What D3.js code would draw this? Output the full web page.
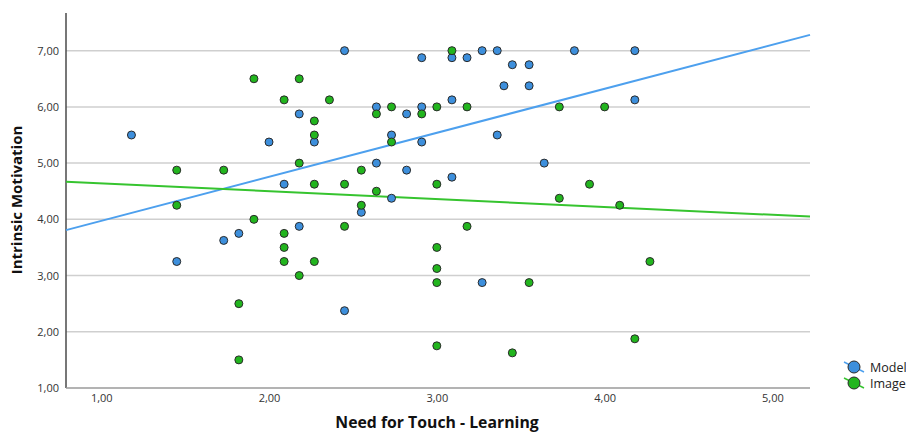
<!DOCTYPE html>
<html>
<head>
<meta charset="utf-8">
<script src="https://cdn.jsdelivr.net/npm/d3@7"></script>
<style>
  body { margin: 0; background: #fff; }
  svg text { font-family: "Open Sans", "DejaVu Sans", sans-serif; }
</style>
</head>
<body>
<div id="chart"></div>
<script>
// Model group (blue)
var modelX = [1.18, 1.45, 1.73, 1.82, 2.00, 2.09, 2.18, 2.18, 2.27, 2.45, 2.45, 2.55, 2.64, 2.64, 2.73, 2.73, 2.82, 2.82, 2.91, 2.91, 2.91, 3.09, 3.09, 3.09, 3.18, 3.27, 3.27, 3.36, 3.36, 3.45, 3.55, 3.40, 3.55, 3.64, 3.82, 4.18, 4.18];
var modelY = [5.5, 3.25, 3.625, 3.75, 5.375, 4.625, 5.875, 3.875, 5.375, 7.0, 2.375, 4.125, 6.0, 5.0, 5.5, 4.375, 5.875, 4.875, 6.875, 6.0, 5.375, 6.875, 6.125, 4.75, 6.875, 7.0, 2.875, 7.0, 5.5, 6.75, 6.75, 6.375, 6.375, 5.0, 7.0, 7.0, 6.125];
// Image group (green)
var imageX = [1.45, 1.45, 1.73, 1.82, 1.82, 1.91, 1.91, 2.09, 2.09, 2.09, 2.09, 2.18, 2.18, 2.18, 2.27, 2.27, 2.27, 2.27, 2.36, 2.45, 2.45, 2.55, 2.55, 2.64, 2.64, 2.73, 2.73, 2.91, 3.00, 3.00, 3.00, 3.00, 3.00, 3.00, 3.09, 3.18, 3.18, 3.45, 3.55, 3.73, 3.73, 3.91, 4.00, 4.09, 4.18, 4.27];
var imageY = [4.875, 4.25, 4.875, 2.5, 1.5, 6.5, 4.0, 6.125, 3.75, 3.5, 3.25, 6.5, 5.0, 3.0, 5.75, 5.5, 4.625, 3.25, 6.125, 4.625, 3.875, 4.875, 4.25, 5.875, 4.5, 6.0, 5.375, 5.875, 6.0, 4.625, 3.5, 3.125, 2.875, 1.75, 7.0, 6.0, 3.875, 1.625, 2.875, 6.0, 4.375, 4.625, 6.0, 4.25, 1.875, 3.25];
// linear fit lines: [intercept, slope]
var modelFit = [3.19, 0.783];
var imageFit = [4.78, -0.14];

var groups = ["Model", "Image"];
var xTicks = [1, 2, 3, 4, 5];
var yTicks = [1, 2, 3, 4, 5, 6, 7];

var fills = {Model: "#3d8fdc", Image: "#22b51e"};
var lineColors = {Model: "#4da0ee", Image: "#36c42f"};

var width = 906, height = 434;
var svg = d3.select("#chart").append("svg")
  .attr("width", width)
  .attr("height", height);

var x = d3.scaleLinear().domain([0.79, 5.224]).range([66, 810]);
var y = d3.scaleLinear().domain([1, 7.67]).range([388, 13]);

var fmt = function(d) { return d3.format(".2f")(d).replace(".", ","); };

// grid
svg.append("g")
  .selectAll("line")
  .data(yTicks.slice(1))
  .enter().append("line")
  .attr("x1", x.range()[0]).attr("x2", x.range()[1])
  .attr("y1", function(d) { return y(d); })
  .attr("y2", function(d) { return y(d); })
  .attr("stroke", "#cfcfcf")
  .attr("stroke-width", 1.5);

// y axis
var yAxis = svg.append("g")
  .attr("transform", "translate(66,0)")
  .call(d3.axisLeft(y).tickValues(yTicks).tickFormat(fmt).tickSize(0).tickPadding(7));
yAxis.select(".domain").remove();
yAxis.selectAll("text").attr("fill", "#333").style("font-size", "11px");

// x axis
var xAxis = svg.append("g")
  .attr("transform", "translate(0,388)")
  .call(d3.axisBottom(x).tickValues(xTicks).tickFormat(fmt).tickSize(0).tickPadding(6));
xAxis.select(".domain").remove();
xAxis.selectAll("text").attr("fill", "#333").style("font-size", "11px");

// axis lines
svg.append("line")
  .attr("x1", 66).attr("x2", 66)
  .attr("y1", y.range()[1]).attr("y2", y.range()[0])
  .attr("stroke", "#4a4a4a").attr("stroke-width", 1.5);
svg.append("line")
  .attr("x1", x.range()[0]).attr("x2", x.range()[1])
  .attr("y1", 388).attr("y2", 388)
  .attr("stroke", "#9a9a9a").attr("stroke-width", 1.5);

// axis titles
svg.append("text")
  .attr("transform", "translate(22,200)rotate(-90)")
  .attr("text-anchor", "middle")
  .style("font-size", "15px")
  .style("font-weight", "bold")
  .attr("fill", "#111")
  .text("Intrinsic Motivation");

svg.append("text")
  .attr("x", 437)
  .attr("y", 428)
  .attr("text-anchor", "middle")
  .style("font-size", "15.8px")
  .style("font-weight", "bold")
  .attr("fill", "#111")
  .text("Need for Touch - Learning");

// fit lines
function drawFit(fit, color) {
  var xs = x.domain();
  svg.append("path")
    .datum(xs.map(function(v) { return [v, fit[0] + fit[1] * v]; }))
    .attr("fill", "none")
    .attr("stroke", color)
    .attr("stroke-width", 2)
    .attr("d", d3.line()
      .x(function(d) { return x(d[0]); })
      .y(function(d) { return y(d[1]); }));
}
drawFit(modelFit, lineColors.Model);
drawFit(imageFit, lineColors.Image);

// points
function drawPoints(xs, ys, color) {
  svg.append("g")
    .selectAll("circle")
    .data(xs.map(function(v, i) { return [v, ys[i]]; }))
    .enter().append("circle")
    .attr("cx", function(d) { return x(d[0]); })
    .attr("cy", function(d) { return y(d[1]); })
    .attr("r", 4)
    .attr("fill", color)
    .attr("stroke", "#2a2a2a")
    .attr("stroke-width", 1);
}
drawPoints(modelX, modelY, fills.Model);
drawPoints(imageX, imageY, fills.Image);

// legend
var legend = svg.append("g").attr("transform", "translate(854,367)");
groups.forEach(function(g, i) {
  var row = legend.append("g").attr("transform", "translate(0," + (i * 16) + ")");
  row.append("line")
    .attr("x1", -10).attr("y1", -5)
    .attr("x2", 10).attr("y2", 5)
    .attr("stroke", lineColors[g]).attr("stroke-width", 1.5);
  row.append("circle")
    .attr("r", 6)
    .attr("fill", fills[g])
    .attr("stroke", "#2a2a2a")
    .attr("stroke-width", 1);
  row.append("text")
    .attr("x", 16)
    .attr("y", 4.5)
    .style("font-size", "12.5px")
    .attr("fill", "#222")
    .text(g);
});
</script>
</body>
</html>
